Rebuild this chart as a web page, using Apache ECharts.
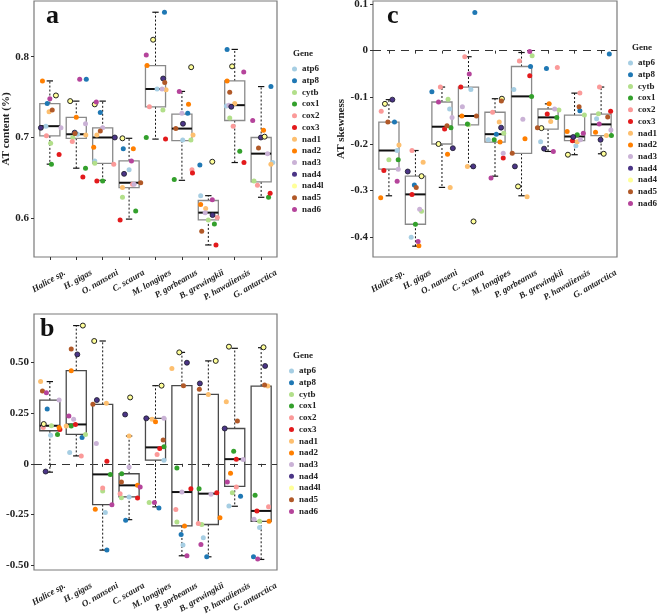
<!DOCTYPE html>
<html><head><meta charset="utf-8">
<script src="https://cdn.jsdelivr.net/npm/echarts@6/dist/echarts.min.js"></script>
<style>html,body{margin:0;padding:0;background:#fff}#c{width:657px;height:615px}</style>
</head><body><div id="c"></div>
<script>
const speciesNames = ['Halice sp.','H. gigas','O. nanseni','C. scaura','M. longipes','P. gorbeanus','B. grewingkii','P. hawaiiensis','G. antarctica'];
const genes = ['atp6','atp8','cytb','cox1','cox2','cox3','nad1','nad2','nad3','nad4','nad4l','nad5','nad6'];

// ---- Panel a: AT content (per species, gene order as above)
const atContent = [
  [0.714,0.742,0.693,0.667,0.702,0.679,0.732,0.770,0.712,0.712,0.752,0.734,0.748],
  [0.704,0.772,0.700,0.662,0.695,0.651,0.703,0.725,0.717,0.706,0.745,0.705,0.772],
  [0.671,0.731,0.668,0.646,0.667,0.646,0.703,0.688,0.712,0.700,0.741,0.708,0.744],
  [0.660,0.686,0.626,0.609,0.642,0.598,0.638,0.686,0.642,0.655,0.699,0.644,0.671],
  [0.760,0.855,0.734,0.700,0.738,0.698,0.759,0.789,0.760,0.773,0.821,0.768,0.802],
  [0.697,0.730,0.697,0.648,0.660,0.656,0.703,0.741,0.730,0.717,0.787,0.711,0.757],
  [0.628,0.666,0.598,0.593,0.601,0.567,0.612,0.617,0.607,0.604,0.670,0.584,0.623],
  [0.739,0.809,0.724,0.683,0.714,0.669,0.742,0.770,0.740,0.738,0.788,0.756,0.781],
  [0.669,0.763,0.646,0.626,0.641,0.631,0.667,0.709,0.680,0.700,0.701,0.687,0.721]
];
const atContentJitter = [
  [-0.15,-0.10,0.03,0.06,-0.13,0.35,-0.03,-0.28,0.42,-0.34,0.23,0.09,0.00],
  [0.05,0.38,-0.13,0.35,-0.15,0.25,0.36,0.00,0.35,-0.06,-0.23,-0.05,0.13],
  [-0.30,-0.09,-0.30,0.00,0.42,-0.22,-0.22,-0.34,0.00,0.46,-0.30,-0.09,-0.24],
  [0.00,-0.22,-0.25,0.25,0.13,-0.34,-0.25,0.16,0.19,-0.19,-0.25,0.44,0.09],
  [0.06,0.34,0.28,-0.35,-0.23,0.38,0.40,-0.32,0.25,0.29,-0.09,0.35,-0.35],
  [0.03,0.22,0.34,-0.29,0.38,0.40,0.42,0.25,0.00,0.04,0.35,-0.23,-0.10],
  [-0.29,-0.32,0.00,0.23,0.34,0.29,-0.10,-0.29,-0.12,0.16,0.15,-0.25,0.15],
  [-0.32,-0.29,-0.19,0.19,-0.06,0.35,0.00,-0.29,-0.22,-0.13,-0.10,-0.19,0.34],
  [0.44,0.37,-0.27,0.28,-0.14,0.34,0.37,0.09,0.24,-0.01,0.13,-0.10,-0.32]
];
// [lower whisker, q1, median, q3, upper whisker]
const atContentBox = [
  [0.667,0.702,0.714,0.742,0.770],
  [0.662,0.699,0.704,0.725,0.745],
  [0.647,0.668,0.700,0.712,0.745],
  [0.599,0.638,0.644,0.671,0.699],
  [0.698,0.738,0.760,0.789,0.855],
  [0.647,0.696,0.711,0.729,0.757],
  [0.567,0.598,0.607,0.622,0.628],
  [0.669,0.721,0.740,0.770,0.809],
  [0.626,0.645,0.680,0.700,0.763]
];
const atContentTicks = [0.6,0.7,0.8];
const atContentTickLabels = ['0.6','0.7','0.8'];

// ---- Panel b: GC skewness
const gcSkew = [
  [0.141,0.270,0.1875,0.145,0.179,0.169,0.405,0.179,0.314,-0.038,0.196,0.359,0.350],
  [0.056,0.130,0.145,0.186,0.039,0.194,0.186,0.459,0.220,0.539,0.681,0.566,0.235],
  [-0.240,-0.425,-0.134,-0.052,-0.119,0.013,0.298,-0.224,0.100,0.314,0.605,0.293,-0.201],
  [-0.163,-0.278,-0.167,-0.049,-0.147,-0.168,0.137,-0.106,-0.016,0.243,0.327,-0.090,-0.114],
  [0.018,-0.217,-0.191,0.084,0.046,0.076,0.219,0.207,0.224,0.224,0.385,0.117,-0.191],
  [-0.400,-0.348,-0.286,-0.020,-0.225,-0.123,0.470,-0.306,-0.139,0.498,0.549,0.385,-0.453],
  [-0.364,-0.458,-0.299,-0.123,-0.294,-0.142,0.342,-0.266,-0.150,0.396,0.507,0.367,-0.397],
  [-0.208,-0.160,-0.142,0.0625,-0.114,0.023,0.306,-0.046,0.021,0.174,0.577,0.211,-0.090],
  [-0.314,-0.458,-0.283,-0.155,-0.212,-0.232,0.383,-0.283,-0.273,0.482,0.574,0.388,-0.469]
];
const gcSkewJitter = [
  [0.03,-0.10,0.06,0.29,-0.25,0.38,-0.35,0.35,0.35,-0.16,-0.23,-0.28,-0.13],
  [-0.25,0.22,0.35,-0.19,0.19,-0.03,-0.38,-0.19,-0.10,0.04,0.25,-0.19,-0.28],
  [0.10,0.16,0.00,0.29,0.00,0.16,0.14,-0.28,-0.24,-0.22,-0.32,-0.37,0.35],
  [0.00,-0.13,-0.29,-0.28,-0.34,0.32,0.00,0.32,0.00,-0.15,0.04,-0.29,0.42],
  [0.32,0.13,-0.24,0.32,0.06,0.16,-0.13,0.00,0.32,-0.35,0.23,0.29,-0.04],
  [0.04,-0.03,-0.19,-0.19,-0.23,0.34,-0.38,0.10,0.00,0.19,-0.10,0.06,0.19],
  [-0.19,-0.06,-0.25,-0.35,-0.38,0.32,0.00,0.44,0.10,-0.32,0.28,-0.34,-0.28],
  [-0.22,0.22,-0.09,-0.04,0.06,0.06,-0.32,-0.16,0.32,-0.38,-0.22,0.10,-0.28],
  [-0.06,-0.29,-0.06,-0.23,0.28,-0.16,0.25,0.30,-0.27,0.15,0.09,0.13,-0.13]
];
const gcSkewBox = [
  [-0.041,0.163,0.1875,0.314,0.405],
  [0.039,0.145,0.194,0.459,0.681],
  [-0.425,-0.201,-0.052,0.293,0.605],
  [-0.275,-0.163,-0.106,-0.049,0.137],
  [-0.212,0.018,0.081,0.224,0.385],
  [-0.453,-0.306,-0.139,0.385,0.549],
  [-0.458,-0.299,-0.147,0.342,0.507],
  [-0.209,-0.111,0.023,0.174,0.569],
  [-0.471,-0.283,-0.232,0.383,0.572]
];
const gcSkewTicks = [-0.5,-0.25,0,0.25,0.5];
const gcSkewTickLabels = ['-0.50','-0.25','0','0.25','0.50'];

// ---- Panel c: AT skewness
const atSkew = [
  [-0.214,-0.153,-0.234,-0.234,-0.130,-0.257,-0.202,-0.315,-0.254,-0.105,-0.114,-0.153,-0.280],
  [-0.400,-0.288,-0.344,-0.372,-0.214,-0.308,-0.239,-0.418,-0.340,-0.259,-0.269,-0.293,-0.409],
  [-0.125,-0.088,-0.104,-0.165,-0.078,-0.168,-0.293,-0.222,-0.143,-0.209,-0.200,-0.161,-0.110],
  [-0.083,0.082,-0.159,-0.157,-0.013,-0.078,-0.248,-0.140,-0.120,-0.248,-0.366,-0.140,-0.050],
  [-0.191,-0.179,-0.177,-0.191,-0.132,-0.230,-0.153,-0.196,-0.220,-0.165,-0.103,-0.108,-0.273],
  [-0.083,-0.034,-0.011,-0.098,-0.022,-0.054,-0.313,-0.189,-0.147,-0.248,-0.291,-0.220,-0.002],
  [-0.195,-0.038,-0.127,-0.143,-0.036,-0.136,-0.152,-0.114,-0.125,-0.210,-0.166,-0.165,-0.216],
  [-0.204,-0.129,-0.138,-0.180,-0.091,-0.193,-0.195,-0.173,-0.191,-0.185,-0.223,-0.120,-0.177],
  [-0.146,-0.007,-0.135,-0.182,-0.078,-0.130,-0.182,-0.175,-0.170,-0.191,-0.221,-0.142,-0.157]
];
const atSkewJitter = [
  [0.31,0.21,0.00,0.35,-0.29,-0.19,0.38,-0.31,0.35,0.13,-0.15,-0.04,0.31],
  [-0.16,-0.04,0.23,0.00,-0.13,-0.13,0.29,0.13,0.16,-0.29,0.23,0.03,0.10],
  [0.29,-0.38,0.23,0.34,-0.06,0.10,0.31,0.21,0.38,0.41,-0.13,0.19,-0.13],
  [0.09,0.24,0.00,-0.04,-0.14,-0.29,-0.04,-0.25,-0.23,0.18,0.19,0.30,0.03],
  [-0.25,0.05,0.33,-0.03,-0.09,0.31,0.16,0.19,0.31,0.23,0.26,0.24,-0.15],
  [-0.29,0.34,0.40,0.38,-0.08,0.31,0.21,0.13,0.05,-0.25,-0.13,-0.35,0.31],
  [-0.28,-0.06,0.41,0.33,0.35,-0.03,0.10,0.04,0.25,-0.15,-0.25,-0.40,0.20],
  [0.05,0.20,0.37,0.10,0.20,-0.08,0.10,-0.28,0.22,-0.05,-0.25,0.17,0.33],
  [-0.17,0.31,-0.10,0.39,-0.06,0.36,0.20,-0.21,0.37,-0.02,0.10,0.25,-0.07]
];
const atSkewBox = [
  [-0.311,-0.254,-0.214,-0.153,-0.105],
  [-0.419,-0.372,-0.308,-0.269,-0.214],
  [-0.293,-0.200,-0.163,-0.110,-0.078],
  [-0.248,-0.159,-0.140,-0.078,-0.013],
  [-0.269,-0.196,-0.179,-0.132,-0.103],
  [-0.311,-0.220,-0.098,-0.034,-0.004],
  [-0.216,-0.168,-0.143,-0.125,-0.114],
  [-0.223,-0.193,-0.184,-0.138,-0.091],
  [-0.221,-0.182,-0.158,-0.136,-0.078]
];
const atSkewTicks = [-0.4,-0.3,-0.2,-0.1,0,0.1];
const atSkewTickLabels = ['-0.4','-0.3','-0.2','-0.1','0','0.1'];

// ---------- styling / layout ----------
const FONT = 'Liberation Serif';
const geneColors = ['#A6CEE3','#1F78B4','#B2DF8A','#33A02C','#FB9A99','#E31A1C','#FDBF6F','#FF7F00','#CAB2D6','#4B3586','#FFFF99','#B15928','#B5449B'];
const catIdx = speciesNames.map((s,i)=>i+1);

const panels = [
  {vals: atContent, jit: atContentJitter, box: atContentBox, ticks: atContentTicks, labels: atContentTickLabels,
   grid:{left:34, top:1, width:243, height:256}, ymin:0.5521, ymax:0.8689, name:'AT content (%)', nameGap:16, boxColor:'#8a8a8a', zero:false},
  {vals: gcSkew, jit: gcSkewJitter, box: gcSkewBox, ticks: gcSkewTicks, labels: gcSkewTickLabels,
   grid:{left:34, top:314, width:243, height:256}, ymin:-0.523, ymax:0.738, name:'GC skewness', nameGap:25, boxColor:'#4a4a4a', zero:true},
  {vals: atSkew, jit: atSkewJitter, box: atSkewBox, ticks: atSkewTicks, labels: atSkewTickLabels,
   grid:{left:373, top:1, width:244, height:256}, ymin:-0.4422, ymax:0.1064, name:'AT skewness', nameGap:22, boxColor:'#8a8a8a', zero:true}
];

function boxRenderer(boxColor){
  return function(params, api){
    const x = api.value(0);
    const pLo = api.coord([x, api.value(1)]);
    const pQ1 = api.coord([x, api.value(2)]);
    const pMed = api.coord([x, api.value(3)]);
    const pQ3 = api.coord([x, api.value(4)]);
    const pHi = api.coord([x, api.value(5)]);
    const unit = api.size([1,0])[0];
    const hw = unit*0.38, cw = unit*0.12, cx = pMed[0];
    const dot = {stroke:'#111', lineWidth:1, lineDash:[2,2]};
    const cap = {stroke:'#111', lineWidth:1.2};
    return {type:'group', children:[
      {type:'line', shape:{x1:cx,y1:pQ3[1],x2:cx,y2:pHi[1]}, style:dot},
      {type:'line', shape:{x1:cx,y1:pQ1[1],x2:cx,y2:pLo[1]}, style:dot},
      {type:'line', shape:{x1:cx-cw,y1:pHi[1],x2:cx+cw,y2:pHi[1]}, style:cap},
      {type:'line', shape:{x1:cx-cw,y1:pLo[1],x2:cx+cw,y2:pLo[1]}, style:cap},
      {type:'rect', shape:{x:cx-hw,y:pQ3[1],width:2*hw,height:pQ1[1]-pQ3[1]}, style:{fill:'none', stroke:boxColor, lineWidth:1.3}},
      {type:'line', shape:{x1:cx-hw,y1:pMed[1],x2:cx+hw,y2:pMed[1]}, style:{stroke:'#111', lineWidth:2}}
    ]};
  };
}

const grids=[], xAxes=[], yAxes=[], series=[];
const labelShiftPx = 15;
panels.forEach((p, k)=>{
  grids.push(Object.assign({show:true, borderColor:'#7a7a7a', borderWidth:1.2, backgroundColor:'#fff', containLabel:false, outerBoundsMode:'none'}, p.grid));
  xAxes.push({type:'value', gridIndex:k, position:'bottom', min:0.4, max:9.6, axisLine:{show:false}, splitLine:{show:false},
    axisTick:{show:true, customValues:catIdx, length:3, lineStyle:{color:'#333'}}, axisLabel:{show:false}});
  yAxes.push({type:'value', gridIndex:k, position:'left', min:p.ymin, max:p.ymax, axisLine:{show:false}, splitLine:{show:false},
    axisTick:{show:true, customValues:p.ticks, length:3, lineStyle:{color:'#333'}},
    axisLabel:{customValues:p.ticks, margin:5, fontFamily:FONT, fontWeight:'bold', fontSize:11, color:'#222',
      formatter:v=>{let b=0; p.ticks.forEach((t,i)=>{if(Math.abs(t-v)<Math.abs(p.ticks[b]-v)) b=i;}); return p.labels[b];}},
    name:p.name, nameLocation:'middle', nameGap:p.nameGap, nameRotate:90,
    nameTextStyle:{fontFamily:FONT, fontWeight:'bold', fontSize:11, color:'#222'}});
  const boxSeries = {type:'custom', name:'box'+k, xAxisIndex:k, yAxisIndex:k, silent:true, z:2,
    renderItem:boxRenderer(p.boxColor), encode:{x:0, y:[1,2,3,4,5]},
    data:p.box.map((b,i)=>[catIdx[i]].concat(b))};
  if(p.zero){
    boxSeries.markLine = {silent:true, symbol:['none','none'], label:{show:false}, z:2,
      lineStyle:{color:'#333', width:1, type:[8,6]}, data:[{yAxis:0}]};
  }
  series.push(boxSeries);
  genes.forEach((g, gi)=>{
    const st = {color:geneColors[gi], opacity:1};
    if(g==='nad4l'){ st.borderColor='#222'; st.borderWidth=1; }
    if(g==='nad4'){ st.borderColor='#1a1a2a'; st.borderWidth=0.8; }
    series.push({type:'scatter', name:g, xAxisIndex:k, yAxisIndex:k, z:3, symbolSize:5, itemStyle:st,
      data:p.vals.map((row,i)=>[catIdx[i]+p.jit[i][gi], row[gi]])});
  });
});
// label-only grids (same scale, shifted right) for the rotated species names
panels.forEach((p, k)=>{
  const gi = 3 + k;
  grids.push({show:false, containLabel:false, outerBoundsMode:'none', left:p.grid.left + labelShiftPx, top:p.grid.top, width:p.grid.width, height:p.grid.height});
  xAxes.push({type:'value', gridIndex:gi, position:'bottom', min:0.4, max:9.6, axisLine:{show:false}, splitLine:{show:false}, axisTick:{show:false},
    axisLabel:{show:true, customValues:catIdx, rotate:30, margin:15, formatter:v=>speciesNames[Math.round(v)-1],
      fontFamily:FONT, fontWeight:'bold', fontStyle:'italic', fontSize:9, color:'#222'}});
  yAxes.push({type:'value', gridIndex:gi, min:0, max:1, show:false});
});

const legendData = genes.map(g=>({name:g, itemStyle:{borderWidth:0}}));
const legendBase = {orient:'vertical', icon:'circle', itemWidth:5, itemHeight:5, itemGap:1.7, selectedMode:false, padding:0,
  data:legendData, textStyle:{fontFamily:FONT, fontWeight:'bold', fontSize:9, lineHeight:10, color:'#222'}};
const legends = [
  Object.assign({}, legendBase, {left:292, top:64}),
  Object.assign({}, legendBase, {left:289, top:366}),
  Object.assign({}, legendBase, {left:628, top:58})
];
const titleStyle = {fontFamily:FONT, fontWeight:'bold', fontSize:9, color:'#222'};
const panelStyle = {fontFamily:FONT, fontWeight:'bold', fontSize:26, color:'#111'};
const titles = [
  {text:'Gene', left:293, top:49, padding:0, textStyle:titleStyle},
  {text:'Gene', left:293, top:351, padding:0, textStyle:titleStyle},
  {text:'Gene', left:632, top:43, padding:0, textStyle:titleStyle},
  {text:'a', left:46, top:3, padding:0, textStyle:panelStyle},
  {text:'b', left:40, top:316, padding:0, textStyle:panelStyle},
  {text:'c', left:387, top:3, padding:0, textStyle:panelStyle}
];

const chart = echarts.init(document.getElementById('c'), null, {renderer:'canvas'});
chart.setOption({animation:false, backgroundColor:'#fff', title:titles, legend:legends,
  grid:grids, xAxis:xAxes, yAxis:yAxes, series:series});
</script></body></html>
